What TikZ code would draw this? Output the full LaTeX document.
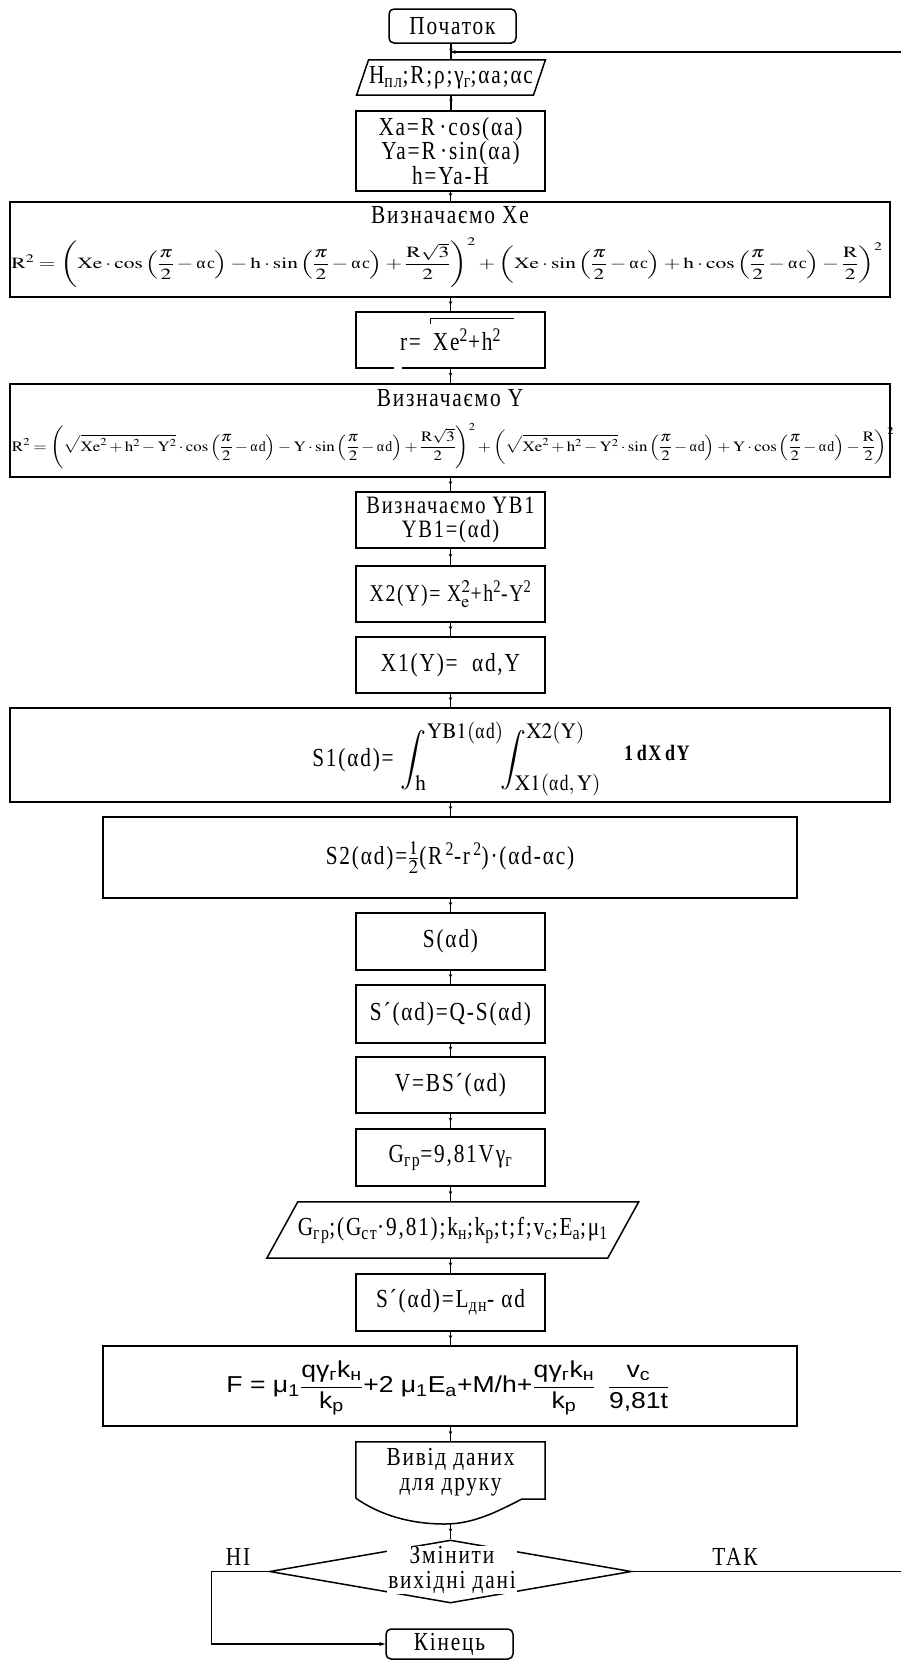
\documentclass[tikz,border=0pt]{standalone}
\usepackage{amsmath}
\usepackage{graphicx}
\usepackage{mathptmx}
\usepackage{fontspec}
\setmainfont{Liberation Serif}[FakeStretch=0.82, LetterSpace=7]
\setsansfont{Liberation Sans}
\usetikzlibrary{shapes.geometric,arrows.meta,decorations.markings}
\newcommand{\ac}{\text{αc}}
\newcommand{\ad}{\text{αd}}
\tikzset{
  boxline/.style={draw, line width=1.5pt},
  box/.style={boxline, rectangle, inner sep=0pt, align=center, font=\fontsize{26}{24.5}\selectfont},
  lbl/.style={inner sep=0pt, align=center, font=\fontsize{26}{24.5}\selectfont},
  conn/.style={line width=1.1pt, postaction={decorate},
    decoration={markings, mark=at position 0.55 with {\arrow{Stealth[length=4pt,width=3.5pt]}}}},
  link/.style={line width=1.1pt},
}
\begin{document}
\begin{tikzpicture}[x=1pt,y=-1pt]
\useasboundingbox (0,0) rectangle (901,1660);
\fill[white] (0,0) rectangle (901,1660);

% start
\node[box, rounded corners=5pt, minimum width=127pt, minimum height=34pt] (start) at (452.5,26) {Початок};

% input 1
\node[lbl, minimum width=176.5pt, minimum height=35pt] (in1) at (451,77.5) {H\textsubscript{пл};R;ρ;γ\textsubscript{г};αa;αc};
\draw[boxline] ([xshift=-6pt]in1.south west) -- ([xshift=6pt]in1.north west) -- ([xshift=6pt]in1.north east) -- ([xshift=-6pt]in1.south east) -- cycle;

% Xa
\node[box, minimum width=189pt, minimum height=80pt] (xa) at (450.5,151) {Xa=R\,·cos(αa)\\Ya=R\,·sin(αa)\\h=Ya-H};

% Xe
\node[box, minimum width=880pt, minimum height=95pt] (xe) at (450,249.5) {};
\node[lbl] (xet) at (450,215) {Визначаємо Xe};
\node[lbl] (xef) at (447,263) {\resizebox*{871pt}{50pt}{$\displaystyle \mathrm{R}^{2} = \left(\mathrm{Xe}\cdot\cos\left(\frac{\pi}{2}-\ac\right)-\mathrm{h}\cdot\sin\left(\frac{\pi}{2}-\ac\right)+\frac{\mathrm{R}\sqrt{3}}{2}\right)^{2}+\left(\mathrm{Xe}\cdot\sin\left(\frac{\pi}{2}-\ac\right)+\mathrm{h}\cdot\cos\left(\frac{\pi}{2}-\ac\right)-\frac{\mathrm{R}}{2}\right)^{2}$}};

% r
\node[box, minimum width=189pt, minimum height=56pt] (r) at (450.5,340) {r=\hspace{12pt}Xe\textsuperscript{2}+h\textsuperscript{2}};
\draw[line width=1pt] (430,318) -- (514,318);
\draw[line width=1pt] (430,318) -- (430,324);
\draw[white, line width=2.5pt] (394,368) -- (402,368);

% Y
\node[box, minimum width=880pt, minimum height=93pt] (yb) at (450,430.5) {};
\node[lbl] (ybt) at (450,398) {Визначаємо Y};
\node[lbl] (ybf) at (453,446) {\resizebox*{882pt}{46pt}{$\displaystyle \mathrm{R}^{2} = \left(\sqrt{\mathrm{Xe}^{2}+\mathrm{h}^{2}-\mathrm{Y}^{2}}\cdot\cos\left(\frac{\pi}{2}-\ad\right)-\mathrm{Y}\cdot\sin\left(\frac{\pi}{2}-\ad\right)+\frac{\mathrm{R}\sqrt{3}}{2}\right)^{2}+\left(\sqrt{\mathrm{Xe}^{2}+\mathrm{h}^{2}-\mathrm{Y}^{2}}\cdot\sin\left(\frac{\pi}{2}-\ad\right)+\mathrm{Y}\cdot\cos\left(\frac{\pi}{2}-\ad\right)-\frac{\mathrm{R}}{2}\right)^{2}$}};

% YB1
\node[box, minimum width=189pt, minimum height=56pt, font=\fontsize{25}{24}\selectfont] (yb1) at (450.5,520) {Визначаємо YB1\\YB1=(αd)};

% X2
\node[box, minimum width=189pt, minimum height=56pt, font=\fontsize{24}{24}\selectfont] (x2) at (450.5,594) {X2(Y)=\ X$_{\mathrm{e}}^{2}$+h\textsuperscript{2}-Y\textsuperscript{2}};

% X1
\node[box, minimum width=189pt, minimum height=56pt] (x1) at (450.5,665) {X1(Y)=\ \ αd,Y};

% S1
\node[box, minimum width=880pt, minimum height=94pt] (s1) at (450,755) {};
\node[lbl] (s1a) at (353,760) {S1(αd)=};
\node[lbl] (s1b) at (501,759) {\resizebox*{200pt}{74pt}{$\displaystyle \int_{\mathrm{h}}^{\mathrm{YB1}(\ad)}\!\!\int_{\mathrm{X1}(\ad,\,\mathrm{Y})}^{\mathrm{X2}(\mathrm{Y})}$}};
\node[lbl, font=\bfseries\fontsize{22}{24}\selectfont] (s1c) at (657,753) {1\,dX\,dY};

% S2
\node[box, minimum width=694pt, minimum height=81pt] (s2) at (450,857.5) {S2(αd)=$\tfrac{1}{2}$(R\textsuperscript{\,2}-r\textsuperscript{\,2})·(αd-αc)};

% S chain
\node[box, minimum width=189pt, minimum height=57pt] (s) at (450.5,941.5) {S(αd)};
\node[box, minimum width=189pt, minimum height=58pt] (sp) at (450.5,1014) {S´(αd)=Q-S(αd)};
\node[box, minimum width=189pt, minimum height=56pt] (v) at (450.5,1085) {V=BS´(αd)};
\node[box, minimum width=189pt, minimum height=57pt] (g) at (450.5,1157.5) {G\textsubscript{гр}=9,81Vγ\textsubscript{г}};

% input 2
\node[lbl, minimum width=340.5pt, minimum height=56pt] (in2) at (452.75,1230) {G\textsubscript{гр};(G\textsubscript{ст}·9,81);k\textsubscript{н};k\textsubscript{р};t;f;v\textsubscript{с};E\textsubscript{а};μ\textsubscript{1}};
\draw[boxline] ([xshift=-15.5pt]in2.south west) -- ([xshift=15.5pt]in2.north west) -- ([xshift=15.5pt]in2.north east) -- ([xshift=-15.5pt]in2.south east) -- cycle;

\node[box, minimum width=189pt, minimum height=57pt] (sl) at (450.5,1302.5) {S´(αd)=L\textsubscript{дн}- αd};

% F
\node[box, minimum width=694pt, minimum height=80pt] (f) at (450,1386) {};
\node[lbl, font=\sffamily\fontsize{22}{26}\selectfont] (ff) at (448,1388) {\resizebox*{443pt}{55pt}{F = μ\textsubscript{1}$\dfrac{\text{qγ\textsubscript{г}k\textsubscript{н}}}{\text{k\textsubscript{p}}}$+2 μ\textsubscript{1}E\textsubscript{a}+M/h+$\dfrac{\text{qγ\textsubscript{г}k\textsubscript{н}}}{\text{k\textsubscript{p}}}\;\;\dfrac{\text{v\textsubscript{c}}}{\text{9,81t}}$}};

% output document
\node[lbl, minimum width=189pt, minimum height=56pt] (out) at (450.5,1472) {Вивід даних\\для друку};
\draw[boxline] ([yshift=2pt]out.south west) -- ([yshift=2pt]out.north west) -- ([yshift=2pt]out.north east) -- ([yshift=1pt]out.south east) -- (522,1499)
  .. controls (500,1510) and (475,1524) .. (445,1524)
  .. controls (410,1524) and (380,1515) .. ([yshift=2pt]out.south west);
\coordinate (outb) at (450.5,1524);

% decision
\node[boxline, diamond, minimum width=362pt, minimum height=63pt, inner sep=0pt] (dec) at (450.5,1571.5) {};
\node[lbl, fill=white, inner sep=1pt] (dect) at (452,1570) {Змінити\\вихідні дані};
\node[lbl] (no) at (238,1557) {НІ};
\node[lbl] (yes) at (735,1557) {ТАК};

% end
\node[box, rounded corners=5pt, minimum width=127pt, minimum height=30pt] (end) at (449.5,1644) {Кінець};

% connectors
\coordinate (join) at (450.5,52);
\coordinate (rb) at (904,1571.5);
\coordinate (rt) at (904,52);
\draw[conn] (start.south -| in1.north) -- (in1.north);
\draw[conn] (in1.south) -- (in1.south |- xa.north);
\draw[conn] (xa.south) -- (xa.south |- xe.north);
\draw[conn] (xa.south |- xe.south) -- (r.north);
\draw[conn] (r.south) -- (r.south |- yb.north);
\draw[conn] (r.south |- yb.south) -- (yb1.north);
\draw[conn] (yb1.south) -- (x2.north);
\draw[conn] (x2.south) -- (x1.north);
\draw[conn] (x1.south) -- (x1.south |- s1.north);
\draw[conn] (x1.south |- s1.south) -- (x1.south |- s2.north);
\draw[conn] (x1.south |- s2.south) -- (s.north);
\draw[conn] (s.south) -- (sp.north);
\draw[conn] (sp.south) -- (v.north);
\draw[conn] (v.south) -- (g.north);
\draw[conn] (g.south) -- (g.south |- in2.north);
\draw[conn] (g.south |- in2.south) -- (sl.north);
\draw[conn] (sl.south) -- (sl.south |- f.north);
\draw[conn] (sl.south |- f.south) -- ([yshift=2pt]out.north);
\draw[conn] (outb) -- (dec.north);
\draw[link, -{Stealth[length=6pt,width=4pt]}] (dec.west) -- ++(-57pt,0pt) |- (end.west);
\draw[link, -{Stealth[length=5pt,width=3.5pt]}] (dec.east) -- (rb) -- (rt) -- (join);
\end{tikzpicture}
\end{document}
